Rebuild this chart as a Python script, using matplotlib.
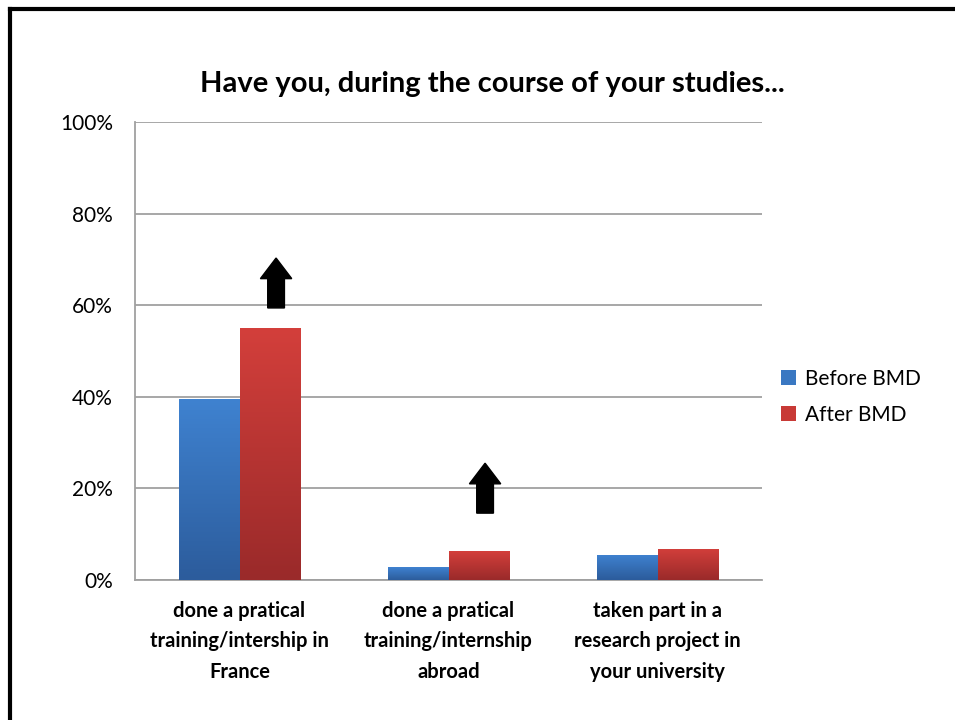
import numpy as np
import matplotlib.pyplot as plt
from matplotlib.colors import LinearSegmentedColormap
from matplotlib.patches import FancyArrow
from matplotlib.lines import Line2D

plt.rcParams['font.family'] = ['Lato', 'DejaVu Sans']

categories = ['done a pratical\ntraining/intership in\nFrance',
              'done a pratical\ntraining/internship\nabroad',
              'taken part in a\nresearch project in\nyour university']
before_bmd = [39.5, 2.8, 5.5]
after_bmd = [55.0, 6.3, 6.8]
yticks = [0, 20, 40, 60, 80, 100]
# arrows drawn above the increases: (category index, base, tip)
arrows = [(0, 59.4, 70.3), (1, 14.6, 25.5)]

fig = plt.figure(figsize=(9.55, 7.2), dpi=100)
ax = fig.add_axes([135/955, 1 - 580/720, 627/955, 458/720])

# slide frame: only the top and left edges fall inside the picture
fx, fy = 9.5/955, 1 - 8.5/720
fig.add_artist(Line2D([fx, 1.0], [fy, fy], transform=fig.transFigure, color='black', lw=3))
fig.add_artist(Line2D([fx, fx], [0.0, fy], transform=fig.transFigure, color='black', lw=3))

x = np.arange(len(categories))
w = 0.29
blue_cm = LinearSegmentedColormap.from_list('b', ['#2c5c9c', '#3f82d0'])
red_cm = LinearSegmentedColormap.from_list('r', ['#9a2a2a', '#d33f3b'])

grad = np.linspace(0, 1, 100).reshape(-1, 1)
for vals, off, cm, c, lab in [(before_bmd, -w/2, blue_cm, '#3a78c2', 'Before BMD'),
                              (after_bmd, w/2, red_cm, '#c83a36', 'After BMD')]:
    bars = ax.bar(x + off, vals, w, color=c, label=lab, zorder=3)
    for b in bars:
        x0, y0 = b.get_x(), b.get_y()
        im = ax.imshow(grad, cmap=cm, origin='lower', aspect='auto',
                       extent=(x0, x0 + b.get_width(), y0, y0 + b.get_height()), zorder=3)
        im.set_clip_path(b)

for i, base, tip in arrows:
    ax.add_patch(FancyArrow(x[i] + w/2 + 0.03, base, 0, tip - base, width=0.08,
                            head_width=0.15, head_length=4.5, length_includes_head=True,
                            color='black', zorder=4))

ax.set_xlim(-0.5, 2.5)
ax.set_ylim(0, 100)
ax.set_yticks(yticks)
ax.set_yticklabels([f'{t}%' for t in yticks], fontsize=15)
ax.set_xticks(x)
ax.set_xticklabels(categories, fontsize=14.5, fontweight='bold', linespacing=1.65)
ax.tick_params(axis='both', length=0)
ax.tick_params(axis='x', pad=15)
ax.tick_params(axis='y', pad=16)
ax.grid(axis='y', color='#a0a0a0', linewidth=1.3, zorder=0)
for s in ['top', 'right']:
    ax.spines[s].set_visible(False)
for s in ['left', 'bottom']:
    ax.spines[s].set_color('#a0a0a0')
    ax.spines[s].set_linewidth(1.3)

fig.text(492/955, 1 - 84/720, 'Have you, during the course of your studies...',
         ha='center', va='center', fontsize=21, fontweight='bold')

ax.legend(loc='center left', bbox_to_anchor=(1.0, 0.40), frameon=False, fontsize=15,
          handlelength=0.75, handleheight=0.75, handletextpad=0.4, labelspacing=0.75)

fig.savefig('out.png', dpi=100)
